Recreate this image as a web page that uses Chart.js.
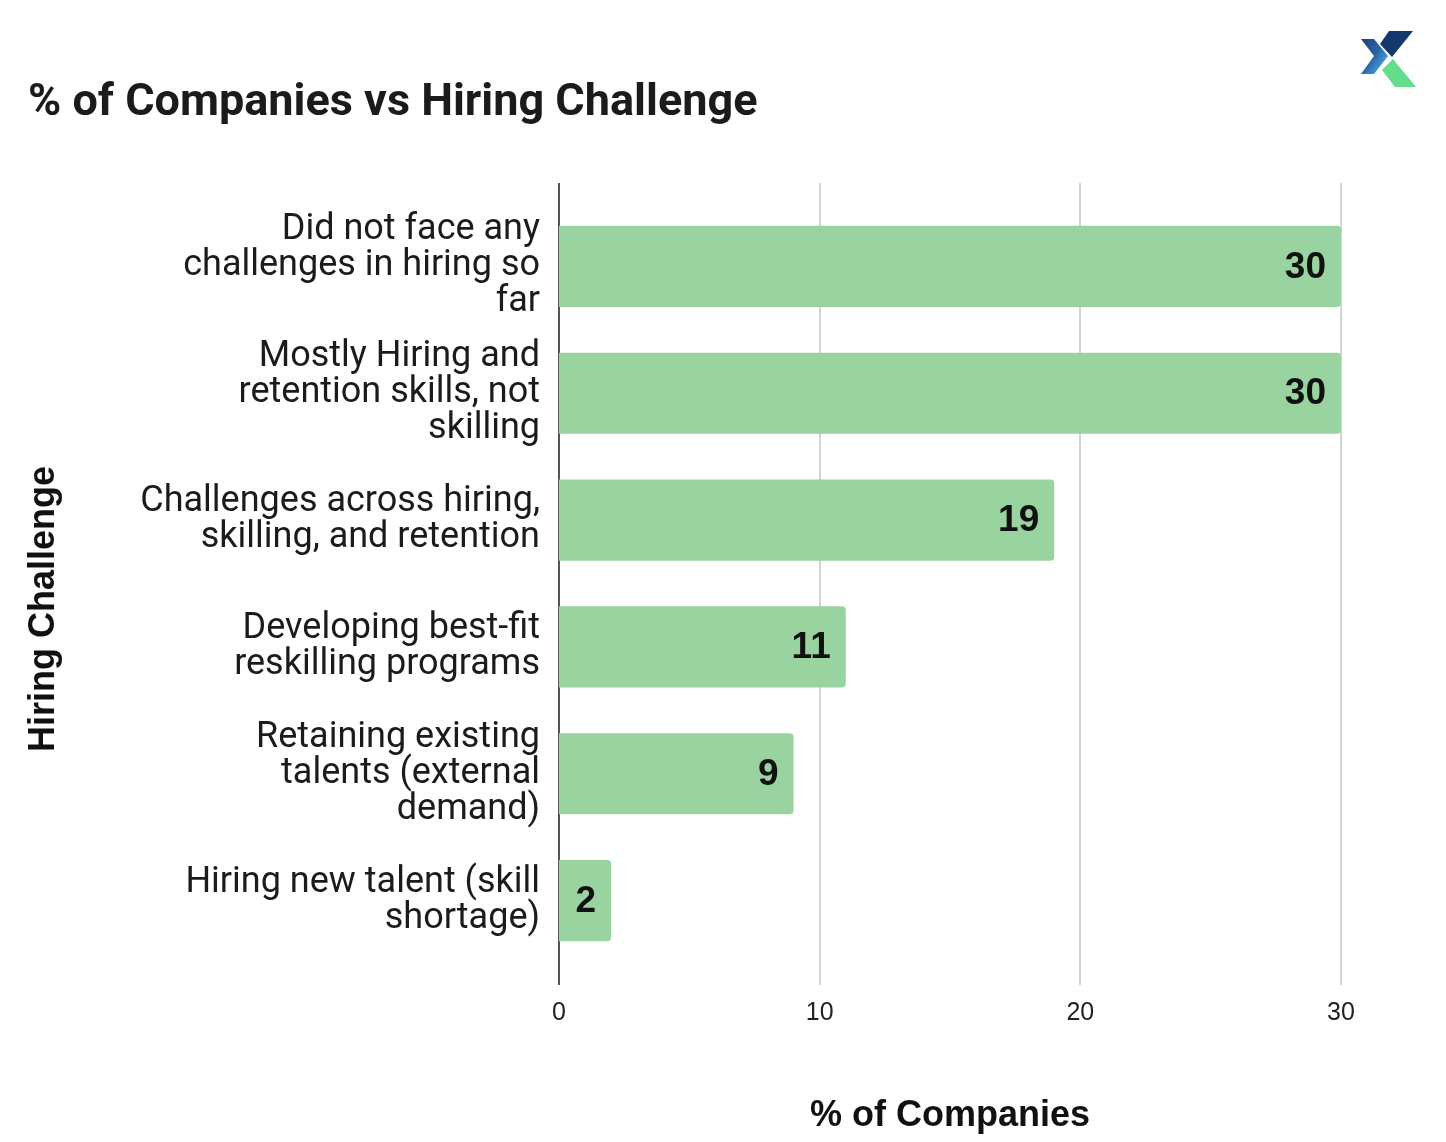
<!DOCTYPE html>
<html>
<head>
<meta charset="utf-8">
<title>% of Companies vs Hiring Challenge</title>
<script src="https://cdn.jsdelivr.net/npm/chart.js@4.4.1/dist/chart.umd.min.js"></script>
<style>
    html, body { margin: 0; padding: 0; background: #fff; }
    #wrap { width: 1446px; height: 1142px; }
</style>
</head>
<body>
<div id="wrap"><canvas id="hiring-chart" width="1446" height="1142"></canvas></div>
<script>
    "use strict";

    // Data
    var challenges = [
        ["Did not face any", "challenges in hiring so", "far"],
        ["Mostly Hiring and", "retention skills, not", "skilling"],
        ["Challenges across hiring,", "skilling, and retention"],
        ["Developing best-fit", "reskilling programs"],
        ["Retaining existing", "talents (external", "demand)"],
        ["Hiring new talent (skill", "shortage)"]
    ];
    var companyPct = [30, 30, 19, 11, 9, 2];
    var xTicks = [0, 10, 20, 30];

    var barColor = "#99d4a0";
    var textColor = "#1b1b1b";

    // Vertical grid lines, a bit taller than the plot area
    var gridPlugin = {
        id: "tallGrid",
        beforeDatasetsDraw: function (chart) {
            var ctx = chart.ctx;
            var x = chart.scales.x;
            var top = chart.chartArea.top - 20;
            var bottom = chart.chartArea.bottom + 21;
            ctx.save();
            xTicks.forEach(function (v) {
                var px = Math.round(x.getPixelForValue(v));
                ctx.beginPath();
                ctx.strokeStyle = v === 0 ? "#555555" : "#d4d4d4";
                ctx.lineWidth = 2;
                ctx.moveTo(px, top);
                ctx.lineTo(px, bottom);
                ctx.stroke();
            });
            ctx.restore();
        }
    };

    // Value labels inside the bar ends
    var valueLabels = {
        id: "valueLabels",
        afterDatasetsDraw: function (chart) {
            var ctx = chart.ctx;
            var meta = chart.getDatasetMeta(0);
            ctx.save();
            ctx.font = "bold 37px 'Liberation Sans', Arial, sans-serif";
            ctx.fillStyle = "#111";
            ctx.textAlign = "right";
            ctx.textBaseline = "middle";
            meta.data.forEach(function (bar, i) {
                ctx.fillText(String(companyPct[i]), bar.x - 15, bar.y + 1);
            });
            ctx.restore();
        }
    };

    // Y axis title and the logo
    var extras = {
        id: "extras",
        afterDraw: function (chart) {
            var ctx = chart.ctx;
            ctx.save();
            ctx.translate(44, 609);
            ctx.rotate(-Math.PI / 2);
            ctx.font = "bold 36px 'Liberation Sans', Arial, sans-serif";
            ctx.fillStyle = "#111";
            ctx.textAlign = "center";
            ctx.textBaseline = "middle";
            ctx.fillText("Hiring Challenge", 0, 0);
            ctx.restore();

            // logo
            ctx.save();
            ctx.fillStyle = "#13386b";
            ctx.beginPath();
            ctx.moveTo(1389, 31); ctx.lineTo(1413, 31); ctx.lineTo(1392, 57); ctx.lineTo(1380, 44);
            ctx.closePath(); ctx.fill();

            var g = ctx.createLinearGradient(1360, 40, 1388, 60);
            g.addColorStop(0, "#1a3f7a");
            g.addColorStop(0.6, "#2a65a8");
            g.addColorStop(1, "#4a9fd8");
            ctx.fillStyle = g;
            ctx.beginPath();
            ctx.moveTo(1361, 39); ctx.lineTo(1374, 39); ctx.lineTo(1388, 56);
            ctx.lineTo(1374, 74); ctx.lineTo(1361, 74); ctx.lineTo(1374, 56);
            ctx.closePath(); ctx.fill();

            ctx.fillStyle = "#63dc8c";
            ctx.beginPath();
            ctx.moveTo(1382, 70); ctx.lineTo(1393, 59); ctx.lineTo(1416, 87); ctx.lineTo(1395, 87);
            ctx.closePath(); ctx.fill();
            ctx.restore();
        }
    };

    var ctx1 = document.getElementById("hiring-chart").getContext("2d");
    var myChart = new Chart(ctx1, {
        type: "bar",
        data: {
            labels: challenges,
            datasets: [{
                label: "% of Companies",
                data: companyPct,
                backgroundColor: barColor,
                borderRadius: 4,
                borderSkipped: "start",
                categoryPercentage: 1,
                barPercentage: 0.64
            }]
        },
        options: {
            indexAxis: "y",
            responsive: false,
            animation: false,
            layout: {
                padding: { left: 28, right: 105, top: 0, bottom: 0 }
            },
            plugins: {
                legend: { display: false },
                tooltip: { enabled: false },
                title: {
                    display: true,
                    text: "% of Companies vs Hiring Challenge",
                    align: "start",
                    color: textColor,
                    font: { family: "Roboto", weight: "bold", size: 45 },
                    padding: { top: 77, bottom: 72 }
                }
            },
            scales: {
                x: {
                    min: 0,
                    max: 30,
                    afterBuildTicks: function (scale) {
                        scale.ticks = xTicks.map(function (v) { return { value: v }; });
                    },
                    afterFit: function (scale) { scale.height = 178; },
                    grid: { display: false, drawTicks: false },
                    border: { display: false },
                    ticks: {
                        color: "#222",
                        padding: 34,
                        font: { family: "'Liberation Sans', Arial, sans-serif", size: 25 }
                    },
                    title: {
                        display: true,
                        text: "% of Companies",
                        color: "#111",
                        font: { family: "'Liberation Sans', Arial, sans-serif", weight: "bold", size: 36 },
                        padding: { top: 0, bottom: 4 }
                    }
                },
                y: {
                    afterFit: function (scale) { scale.width = 531; },
                    grid: { display: false, drawTicks: false },
                    border: { display: false },
                    ticks: {
                        color: textColor,
                        padding: 19,
                        font: { family: "Roboto", size: 36, lineHeight: 1.0 }
                    }
                }
            }
        },
        plugins: [gridPlugin, valueLabels, extras]
    });
</script>
</body>
</html>
